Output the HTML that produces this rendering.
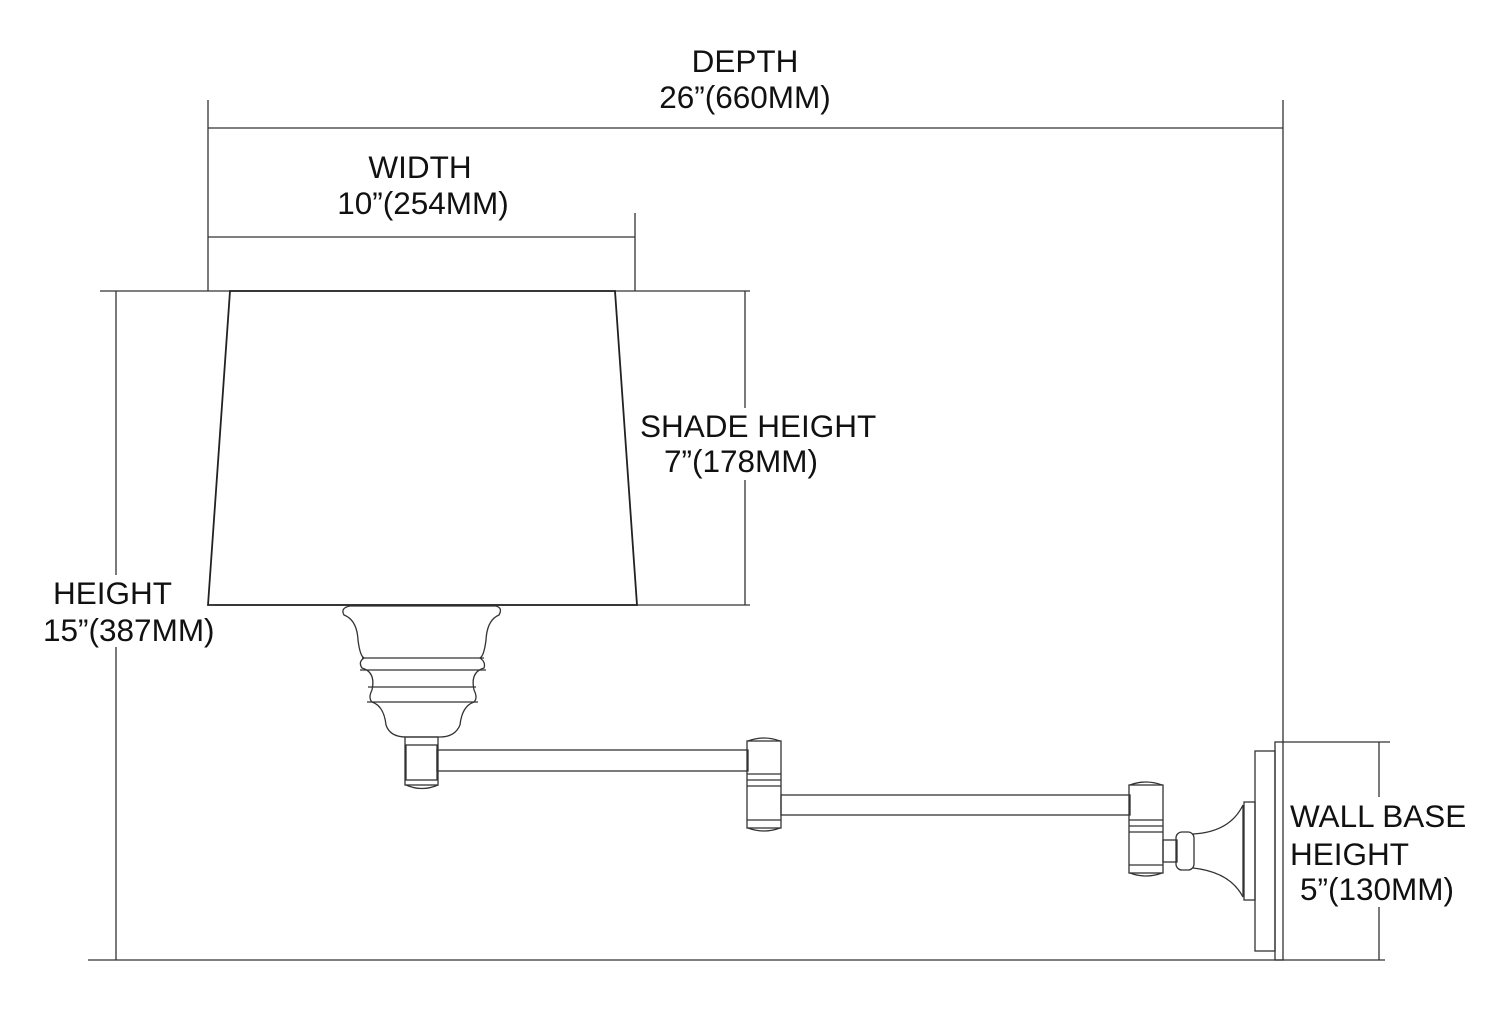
<!DOCTYPE html>
<html><head><style>body{margin:0;background:#fff}svg{display:block}text{font-family:"Liberation Sans",sans-serif;font-size:31.5px;fill:#111}</style></head><body>
<svg width="1500" height="1011" viewBox="0 0 1500 1011" fill="none" stroke="#333" stroke-width="1.3">
<line x1="208" y1="100" x2="208" y2="291"/>
<line x1="1283" y1="100" x2="1283" y2="742"/>
<line x1="208" y1="128" x2="1283" y2="128"/>
<line x1="635" y1="213" x2="635" y2="291"/>
<line x1="208" y1="237" x2="635" y2="237"/>
<line x1="100" y1="291" x2="750" y2="291"/>
<line x1="208" y1="605" x2="750" y2="605"/>
<line x1="745" y1="291" x2="745" y2="605"/>
<line x1="116" y1="291" x2="116" y2="960"/>
<line x1="88" y1="960" x2="1385" y2="960"/>
<line x1="1283" y1="742" x2="1390" y2="742"/>
<line x1="1379" y1="742" x2="1379" y2="960"/>
<g fill="#fff" stroke="none">
<rect x="638" y="408" width="240" height="72"/>
<rect x="40" y="575" width="175" height="72"/>
<rect x="1288" y="797" width="180" height="110"/>
</g>
<path d="M230 291 L615 291 L637 605 L208 605 Z" stroke="#222" stroke-width="1.8"/>
<path d="M350 606 L496 606 Q503 608 499 615 Q487 620 486 640 Q484 656 480 658 Q486 662 484 668 Q470 672 474 690 Q478 698 474 702 Q462 706 460 725 Q455 737 440 737 L406 737 Q390 737 386 725 Q384 706 372 702 Q368 698 372 690 Q376 672 362 668 Q358 662 364 658 Q360 656 358 640 Q357 620 344 615 Q340 608 350 606 Z"/>
<line x1="362" y1="658" x2="484" y2="658"/><line x1="360" y1="670" x2="486" y2="670"/>
<line x1="368" y1="687" x2="476" y2="687"/><line x1="367" y1="702" x2="478" y2="702"/>
<rect x="405" y="737" width="33" height="48"/>
<rect x="406" y="745" width="31" height="35"/>
<path d="M406 785 Q422 792 438 785"/>
<rect x="437" y="750" width="311" height="21"/>
<rect x="747" y="741" width="34" height="87"/>
<path d="M748 741 Q764 735 780 741"/><path d="M748 828 Q764 834 780 828"/>
<line x1="747" y1="774" x2="781" y2="774"/><line x1="747" y1="780" x2="781" y2="780"/>
<line x1="747" y1="786" x2="781" y2="786"/><line x1="747" y1="820" x2="781" y2="820"/>
<rect x="781" y="795" width="349" height="20"/>
<rect x="1129" y="785" width="34" height="88"/>
<path d="M1130 785 Q1146 779 1162 785"/><path d="M1130 873 Q1146 879 1162 873"/>
<line x1="1129" y1="820" x2="1163" y2="820"/><line x1="1129" y1="826" x2="1163" y2="826"/>
<line x1="1129" y1="832" x2="1163" y2="832"/><line x1="1129" y1="865" x2="1163" y2="865"/>
<rect x="1163" y="840" width="14" height="22"/>
<rect x="1176" y="832" width="18" height="38" rx="6"/>
<path d="M1193 834 Q1230 832 1243 805 L1243 897 Q1230 872 1193 868"/>
<rect x="1244" y="802" width="11" height="98"/>
<rect x="1255" y="751" width="20" height="200"/>
<rect x="1275" y="742" width="8" height="218"/>
<g stroke="none">
<text x="745" y="72" text-anchor="middle">DEPTH</text>
<text x="745" y="108" text-anchor="middle">26”(660MM)</text>
<text x="420" y="178" text-anchor="middle">WIDTH</text>
<text x="423" y="214" text-anchor="middle">10”(254MM)</text>
<text x="640" y="437">SHADE HEIGHT</text>
<text x="664" y="472">7”(178MM)</text>
<text x="53" y="604">HEIGHT</text>
<text x="43" y="641">15”(387MM)</text>
<text x="1290" y="827">WALL BASE</text>
<text x="1290" y="865">HEIGHT</text>
<text x="1300" y="900">5”(130MM)</text>
</g>
</svg>
</body></html>
